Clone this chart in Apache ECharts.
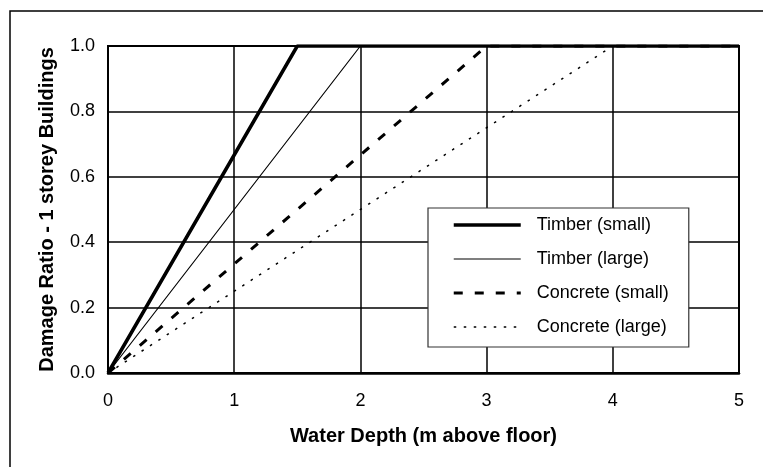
<!DOCTYPE html>
<html>
<head>
<meta charset="utf-8">
<script src="https://cdn.jsdelivr.net/npm/echarts@6/dist/echarts.min.js"></script>
<style>html,body{margin:0;padding:0;background:#fff;}#c{width:763px;height:467px;}</style>
</head>
<body>
<div id="c"></div>
<script>
const seriesNames = ['Timber (small)', 'Timber (large)', 'Concrete (small)', 'Concrete (large)'];
const timberSmall = [[0, 0], [1.5, 1.0], [5, 1.0]];
const timberLarge = [[0, 0], [2, 1.0], [5, 1.0]];
const concreteSmall = [[0, 0], [3, 1.0], [5, 1.0]];
const concreteLarge = [[0, 0], [4, 1.0], [5, 1.0]];
const xTicks = [0, 1, 2, 3, 4, 5];
const yTicks = [0.0, 0.2, 0.4, 0.6, 0.8, 1.0];
const xTitle = 'Water Depth (m above floor)';
const yTitle = 'Damage Ratio - 1 storey Buildings';

const FONT = 'Arial, "Liberation Sans", sans-serif';
const chart = echarts.init(document.getElementById('c'), null, {renderer: 'canvas'});

const styles = [
  {width: 3.5, type: 'solid'},
  {width: 1.2, type: 'solid'},
  {width: 3, type: [9, 12]},
  {width: 1.5, type: [2.5, 7.5]}
];
const datasets = [timberSmall, timberLarge, concreteSmall, concreteLarge];

chart.setOption({
  backgroundColor: '#fff',
  animation: false,
  graphic: [{
    type: 'rect', silent: true, z: -10,
    shape: {x: 10, y: 11, width: 800, height: 500},
    style: {fill: 'none', stroke: '#000', lineWidth: 1.5}
  }],
  grid: {left: 108, top: 46, right: 24, bottom: 94, show: true, borderColor: '#000', borderWidth: 2, backgroundColor: 'transparent'},
  xAxis: {
    type: 'value', min: xTicks[0], max: xTicks[xTicks.length - 1], interval: 1,
    name: xTitle, nameLocation: 'middle', nameGap: 53,
    nameTextStyle: {fontFamily: FONT, fontWeight: 'bold', fontSize: 20, color: '#000'},
    axisLine: {show: true, lineStyle: {color: '#000', width: 2.5}},
    axisTick: {show: false},
    axisLabel: {fontFamily: FONT, fontSize: 18, color: '#000', margin: 19},
    splitLine: {show: true, lineStyle: {color: '#000', width: 1.5}}
  },
  yAxis: {
    type: 'value', min: yTicks[0], max: yTicks[yTicks.length - 1], interval: 0.2,
    name: yTitle, nameLocation: 'middle', nameGap: 51,
    nameTextStyle: {fontFamily: FONT, fontWeight: 'bold', fontSize: 20, color: '#000'},
    axisLine: {show: true, lineStyle: {color: '#000', width: 2}},
    axisTick: {show: false},
    axisLabel: {fontFamily: FONT, fontSize: 18, color: '#000', margin: 13, formatter: v => v.toFixed(1)},
    splitLine: {show: true, lineStyle: {color: '#000', width: 1.5}}
  },
  legend: {
    orient: 'vertical', left: 428, top: 208,
    data: seriesNames.map((n, i) => ({
      name: n,
      lineStyle: {width: styles[i].width, type: styles[i].type, color: '#000'}
    })),
    backgroundColor: '#fff', borderColor: '#333', borderWidth: 1.2,
    padding: [8, 20, 11, 24],
    itemWidth: 67, itemHeight: 18, itemGap: 16,
    itemStyle: {opacity: 0, color: 'transparent', borderWidth: 0},
    lineStyle: {width: 'inherit', type: 'inherit', color: '#000'},
    textStyle: {fontFamily: FONT, fontSize: 18, color: '#000', lineHeight: 18, padding: [0, 0, 0, 11]},
    z: 10
  },
  series: seriesNames.map((n, i) => ({
    name: n, type: 'line', data: datasets[i],
    symbol: 'none', showSymbol: false,
    lineStyle: {color: '#000', width: styles[i].width, type: styles[i].type, cap: 'butt'},
    itemStyle: {color: '#000'},
    z: 3
  }))
});
</script>
</body>
</html>
